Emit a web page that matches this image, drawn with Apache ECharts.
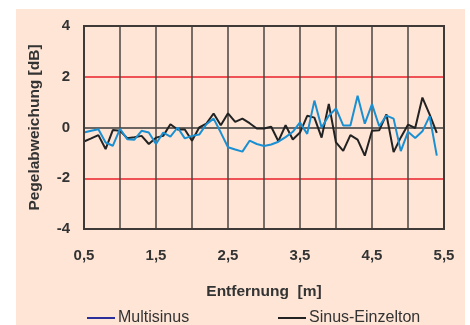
<!DOCTYPE html>
<html>
<head>
<meta charset="utf-8">
<script src="https://cdn.jsdelivr.net/npm/echarts@6/dist/echarts.min.js"></script>
<style>
  html, body { margin: 0; padding: 0; background: #ffffff; }
  #bg { position: absolute; left: 16px; top: 9px; width: 449px; height: 316px; background: #fee5d6; }
  #chart { position: absolute; left: 0; top: 0; width: 470px; height: 325px; }
</style>
</head>
<body>
<div id="bg"></div>
<div id="chart"></div>
<script>
const distances = [0.5,0.6,0.7,0.8,0.9,1.0,1.1,1.2,1.3,1.4,1.5,1.6,1.7,1.8,1.9,2.0,2.1,2.2,2.3,2.4,2.5,2.6,2.7,2.8,2.9,3.0,3.1,3.2,3.3,3.4,3.5,3.6,3.7,3.8,3.9,4.0,4.1,4.2,4.3,4.4,4.5,4.6,4.7,4.8,4.9,5.0,5.1,5.2,5.3,5.4];
const multisinus = [-0.2,-0.13,-0.07,-0.59,-0.72,-0.05,-0.46,-0.48,-0.13,-0.2,-0.65,-0.2,-0.36,0,-0.43,-0.33,-0.28,0.13,0.35,-0.2,-0.78,-0.87,-0.95,-0.52,-0.65,-0.73,-0.67,-0.56,-0.38,-0.17,0.2,-0.25,1.06,0,0.46,0.75,0.08,0.08,1.25,0.15,0.92,0.05,0.47,0.35,-0.93,-0.17,-0.41,-0.15,0.45,-1.11];
const sinusEinzelton = [-0.55,-0.43,-0.3,-0.85,-0.1,-0.13,-0.42,-0.38,-0.33,-0.65,-0.4,-0.33,0.13,-0.08,-0.08,-0.52,0,0.15,0.55,0.09,0.56,0.22,0.35,0.17,-0.04,-0.04,0.03,-0.54,0.09,-0.47,-0.2,0.46,0.39,-0.4,0.93,-0.59,-0.92,-0.3,-0.48,-1.11,-0.13,-0.11,0.52,-0.97,-0.39,0.11,-0.02,1.18,0.52,-0.21];
const xTickLabels = ['0,5','1,5','2,5','3,5','4,5','5,5'];
const yTickLabels = ['-4','-2','0','2','4'];

const chart = echarts.init(document.getElementById('chart'), null, {renderer: 'canvas'});
const font = 'Arial, "Liberation Sans", sans-serif';
const pair = arr => distances.map((d, i) => [d, arr[i]]);

chart.setOption({
  animation: false,
  backgroundColor: 'transparent',
  grid: { left: 84, top: 26, right: 26, bottom: 96, show: false },
  legend: [
    {
      data: [{ name: 'Multisinus', itemStyle: { color: '#2b2f9c' } }],
      left: 82, top: 305, itemWidth: 28, itemHeight: 2, icon: 'rect', itemGap: 3,
      textStyle: { fontFamily: font, fontSize: 16, color: '#333', padding: [0, 0, 0, -2] }
    },
    {
      data: [{ name: 'Sinus-Einzelton', itemStyle: { color: '#222' } }],
      left: 273, top: 305, itemWidth: 28, itemHeight: 2, icon: 'rect', itemGap: 3,
      textStyle: { fontFamily: font, fontSize: 16, color: '#333', padding: [0, 0, 0, -2] }
    }
  ],
  xAxis: {
    type: 'value', min: 0.5, max: 5.5, interval: 0.5,
    name: 'Entfernung  [m]', nameLocation: 'middle', nameGap: 55,
    nameTextStyle: { fontFamily: font, fontSize: 15.5, fontWeight: 'bold', color: '#333' },
    axisLine: { show: false }, axisTick: { show: false },
    axisLabel: {
      fontFamily: font, fontSize: 15, fontWeight: 'bold', color: '#333', margin: 19,
      formatter: v => {
        const idx = Math.round((v - 0.5) * 100) / 100;
        return Number.isInteger(idx) ? (xTickLabels[idx] || '') : '';
      }
    },
    splitLine: { show: true, lineStyle: { color: '#4a4440', width: 1.5 } }
  },
  yAxis: {
    type: 'value', min: -4, max: 4, interval: 2,
    name: 'Pegelabweichung [dB]', nameLocation: 'middle', nameGap: 41, nameRotate: 90,
    nameTextStyle: { fontFamily: font, fontSize: 15.5, fontWeight: 'bold', color: '#333' },
    axisLine: { show: false }, axisTick: { show: false },
    axisLabel: {
      fontFamily: font, fontSize: 15, fontWeight: 'bold', color: '#333', margin: 14,
      formatter: v => yTickLabels[Math.round((v + 4) / 2)]
    },
    splitLine: { show: true, lineStyle: { color: ['#4a4440', '#e8202a', '#3a3a3a', '#e8202a', '#4a4440'], width: 1.5 } }
  },
  series: [
    {
      name: 'Multisinus', type: 'line', data: pair(multisinus),
      symbol: 'none', lineStyle: { color: '#1a90d2', width: 2 }, itemStyle: { color: '#2b2f9c' }, z: 3
    },
    {
      name: 'Sinus-Einzelton', type: 'line', data: pair(sinusEinzelton),
      symbol: 'none', lineStyle: { color: '#222', width: 2 }, itemStyle: { color: '#222' }, z: 2
    }
  ],
  graphic: [{
    type: 'rect', shape: { x: 84, y: 26, width: 360, height: 203 },
    style: { fill: 'none', stroke: '#3f3a37', lineWidth: 2 }, z: 100, silent: true
  }]
});
</script>
</body>
</html>
